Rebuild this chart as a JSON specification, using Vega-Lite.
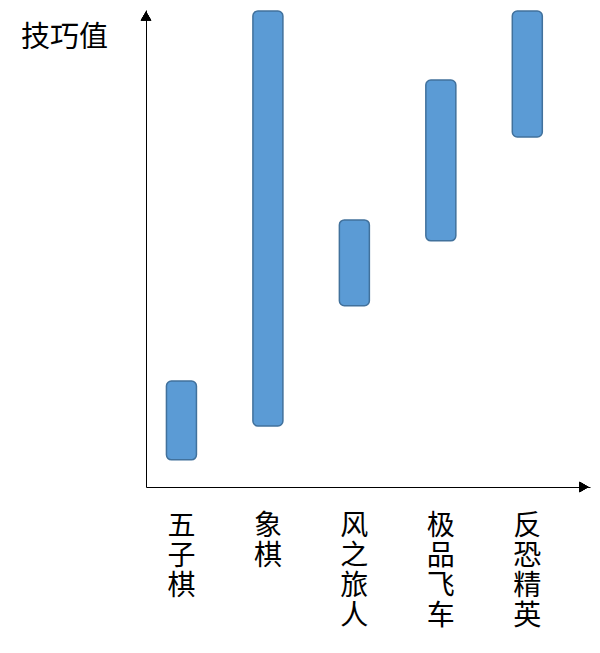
{
  "$schema": "https://vega.github.io/schema/vega-lite/v6.json",
  "description": "Skill range per game as floating bars with arrowed axes",
  "background": "white",
  "autosize": {"type": "none"},
  "padding": {"left": 146, "top": 10, "right": 10, "bottom": 166},
  "width": 444,
  "height": 477,
  "data": {
    "values": [
      {"game": "五子棋", "low": 5.7, "high": 22.2},
      {"game": "象棋", "low": 12.8, "high": 99.8},
      {"game": "风之旅人", "low": 38.0, "high": 56.0},
      {"game": "极品飞车", "low": 51.6, "high": 85.3},
      {"game": "反恐精英", "low": 73.4, "high": 99.8}
    ]
  },
  "layer": [
    {
      "mark": {"type": "bar", "fill": "#5B9BD5", "stroke": "#41719C", "strokeWidth": 1.5, "cornerRadius": 5},
      "encoding": {
        "x": {
          "field": "game", "type": "nominal", "sort": null,
          "scale": {"paddingInner": 0.653, "paddingOuter": 0.394, "align": 0.3},
          "axis": {
            "title": null, "ticks": false, "labelAngle": 0,
            "labelExpr": "split(datum.label, '')",
            "labelFontSize": 28, "labelLineHeight": 30, "labelPadding": 25,
            "labelBaseline": "top", "labelColor": "black",
            "domainColor": "black", "domainWidth": 1
          }
        },
        "y": {
          "field": "low", "type": "quantitative",
          "scale": {"domain": [0, 100], "nice": false},
          "axis": {
            "title": "技巧值", "titleAngle": 0, "titleAlign": "center",
            "titleBaseline": "middle", "titleX": -82, "titleY": 27,
            "titleFontSize": 29, "titleFontWeight": "normal", "titleColor": "black",
            "labels": false, "ticks": false, "grid": false,
            "domainColor": "black", "domainWidth": 1
          }
        },
        "y2": {"field": "high"}
      }
    },
    {
      "mark": {"type": "point", "shape": "triangle-up", "filled": true, "color": "black", "size": 110, "yOffset": 6, "opacity": 1},
      "encoding": {
        "x": {"datum": 0, "type": "quantitative", "scale": {"domain": [0, 1], "nice": false}, "axis": null},
        "y": {"datum": 100, "type": "quantitative"}
      }
    },
    {
      "mark": {"type": "point", "shape": "triangle-right", "filled": true, "color": "black", "size": 110, "xOffset": -6, "opacity": 1},
      "encoding": {
        "x": {"datum": 1, "type": "quantitative", "scale": {"domain": [0, 1], "nice": false}, "axis": null},
        "y": {"datum": 0, "type": "quantitative"}
      }
    }
  ],
  "resolve": {"scale": {"x": "independent"}},
  "config": {
    "font": "Noto Sans CJK SC",
    "view": {"stroke": null}
  }
}
